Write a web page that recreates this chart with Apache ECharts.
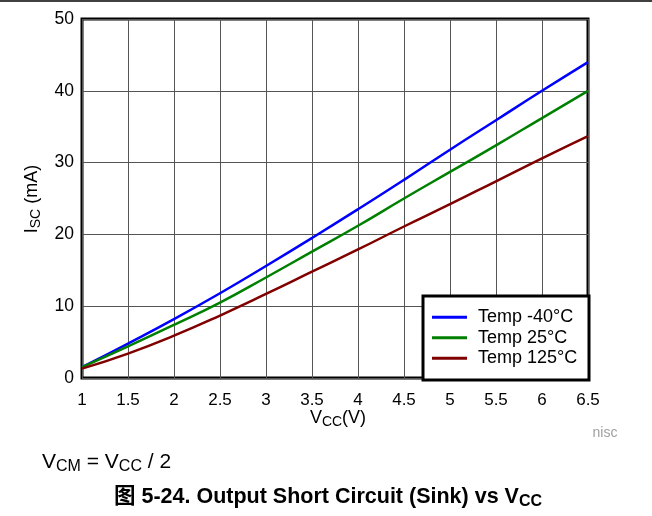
<!DOCTYPE html>
<html><head><meta charset="utf-8">
<script src="https://cdn.jsdelivr.net/npm/echarts@6/dist/echarts.min.js"></script>
<style>html,body{margin:0;padding:0;background:#fff}#c{width:652px;height:516px}</style>
</head><body><div id="c"></div>
<script>
var vcc = [1, 1.5, 2, 2.5, 3, 3.5, 4, 4.5, 5, 5.5, 6, 6.5];
var tempM40 = [1.5, 4.8, 8.2, 11.8, 15.6, 19.5, 23.5, 27.6, 31.8, 35.9, 40.0, 44.0];
var temp25 = [1.5, 4.4, 7.4, 10.5, 14.0, 17.6, 21.2, 25.0, 28.7, 32.4, 36.2, 40.0];
var temp125 = [1.3, 3.4, 5.9, 8.7, 11.7, 14.8, 17.9, 21.1, 24.2, 27.4, 30.6, 33.7];
var seriesNames = ['Temp -40°C', 'Temp 25°C', 'Temp 125°C'];
var seriesColors = ['#0000ff', '#008000', '#800000'];
var F = 'Liberation Sans, Arial, Helvetica, sans-serif';
function pairs(ys){ return vcc.map(function(x,i){ return [x, ys[i]]; }); }
var data = [tempM40, temp25, temp125];
var chart = echarts.init(document.getElementById('c'), null, {renderer:'canvas'});
function rich(base, subSize, bold){
  var fw = bold ? 'bold' : 'normal';
  return {n:{fontSize:base, fontWeight:fw, fontFamily:'Liberation Sans, Arial, Noto Sans CJK SC, sans-serif', color:'#000'},
          s:{fontSize:subSize, fontWeight:fw, fontFamily:F, color:'#000', padding:[Math.round(base*0.45),0,0,0]}};
}
chart.setOption({
  animation:false,
  backgroundColor:'#fff',
  grid:{left:82, right:64, top:19, bottom:138, show:true, borderColor:'#000', borderWidth:3, backgroundColor:'transparent'},
  xAxis:{type:'value', min:1, max:6.5, interval:0.5,
    axisLine:{show:false}, axisTick:{show:false},
    axisLabel:{fontSize:17, fontFamily:F, color:'#000', margin:14, formatter:function(v){return String(v);}},
    splitLine:{show:true, lineStyle:{color:'#555', width:1}}},
  yAxis:{type:'value', min:0, max:50, interval:10,
    axisLine:{show:false}, axisTick:{show:false},
    axisLabel:{fontSize:17.5, fontFamily:F, color:'#000', margin:8},
    splitLine:{show:true, lineStyle:{color:'#555', width:1}}},
  legend:{orient:'vertical', left:432, top:307, z:10, itemWidth:35, itemHeight:3, itemGap:0, padding:0,
    textStyle:{fontSize:18, lineHeight:20.5, fontFamily:F, color:'#000', padding:[0,0,0,6]},
    data:seriesNames.map(function(n){return {name:n, icon:'rect'};})},
  graphic:[
    {type:'line', shape:{x1:0,y1:1,x2:652,y2:1}, style:{stroke:'#000', lineWidth:1.5}},
    {type:'rect', z:5, shape:{x:423, y:296, width:166, height:84}, style:{fill:'#fff', stroke:'#000', lineWidth:3}},
    {type:'text', x:338, y:418, style:{text:'{n|V}{s|CC}{n|(V)}', rich:rich(18,14,false), align:'center', verticalAlign:'middle'}},
    {type:'text', x:32, y:199, rotation:Math.PI/2, style:{text:'{n|I}{s|SC}{n| (mA)}', rich:rich(18,14,false), align:'center', verticalAlign:'middle'}},
    {type:'text', x:605, y:433, style:{text:'nisc', fontSize:14, fontFamily:F, fill:'#a0a0a0', align:'center', verticalAlign:'middle'}},
    {type:'text', x:42, y:462, style:{text:'{n|V}{s|CM}{n| = V}{s|CC}{n| / 2}', rich:rich(21,16,false), align:'left', verticalAlign:'middle'}},
    {type:'text', x:328, y:497, style:{text:'{n|图 5-24. Output Short Circuit (Sink) vs V}{s|CC}', rich:rich(21.5,16,true), align:'center', verticalAlign:'middle'}}
  ],
  series:data.map(function(d,i){
    return {name:seriesNames[i], type:'line', data:pairs(d), smooth:true, symbol:'none',
      lineStyle:{color:seriesColors[i], width:2.5}, itemStyle:{color:seriesColors[i]}, z:3};
  })
});
</script></body></html>
